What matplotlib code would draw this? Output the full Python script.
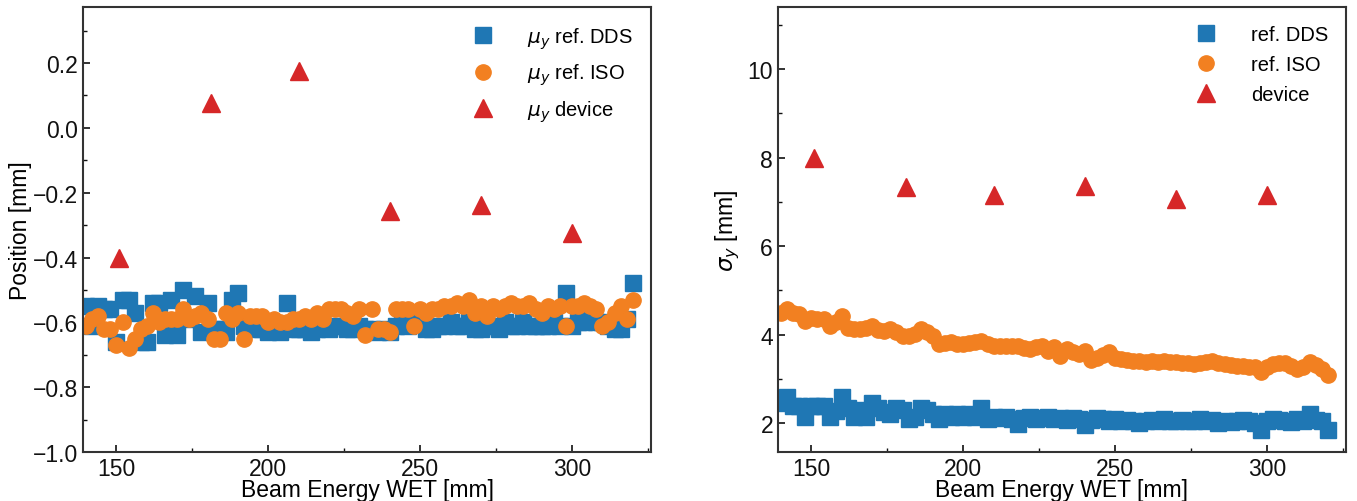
import numpy as np
import matplotlib
matplotlib.use("Agg")
import matplotlib.pyplot as plt
from matplotlib.ticker import MultipleLocator

plt.rcParams["font.family"] = ["Liberation Sans", "DejaVu Sans"]
plt.rcParams["mathtext.fontset"] = "dejavusans"

# beam energy WET [mm]
energy = list(range(140, 322, 2))

mu_dds = [-0.55, -0.61, -0.55, -0.56, -0.56, -0.66, -0.53, -0.53, -0.57, -0.66,
          -0.66, -0.54, -0.54, -0.64, -0.53, -0.64, -0.50, -0.59, -0.52, -0.63,
          -0.54, -0.62, -0.62, -0.63, -0.53, -0.51, -0.61, -0.60, -0.62, -0.62,
          -0.63, -0.62, -0.63, -0.54, -0.62, -0.62, -0.62, -0.63, -0.62, -0.61,
          -0.62, -0.61, -0.61, -0.62, -0.62, -0.61, -0.62, -0.62, -0.63, -0.62,
          -0.63, -0.61, -0.60, -0.61, -0.60, -0.60, -0.62, -0.62, -0.61, -0.61,
          -0.60, -0.61, -0.61, -0.60, -0.62, -0.62, -0.61, -0.61, -0.62, -0.60,
          -0.61, -0.61, -0.60, -0.61, -0.61, -0.61, -0.61, -0.60, -0.61, -0.51,
          -0.61, -0.60, -0.60, -0.59, -0.60, -0.60, -0.61, -0.62, -0.62, -0.59,
          -0.48]
mu_iso = [-0.61, -0.59, -0.58, -0.62, -0.62, -0.67, -0.60, -0.68, -0.65, -0.62,
          -0.61, -0.57, -0.60, -0.59, -0.59, -0.59, -0.56, -0.59, -0.58, -0.57,
          -0.59, -0.65, -0.65, -0.57, -0.59, -0.57, -0.65, -0.58, -0.58, -0.58,
          -0.60, -0.59, -0.60, -0.60, -0.59, -0.59, -0.58, -0.59, -0.57, -0.59,
          -0.56, -0.56, -0.56, -0.57, -0.58, -0.56, -0.64, -0.56, -0.62, -0.62,
          -0.63, -0.56, -0.56, -0.56, -0.61, -0.56, -0.57, -0.56, -0.56, -0.55,
          -0.55, -0.54, -0.55, -0.53, -0.57, -0.55, -0.58, -0.55, -0.56, -0.55,
          -0.54, -0.55, -0.55, -0.54, -0.56, -0.57, -0.55, -0.56, -0.55, -0.61,
          -0.55, -0.55, -0.54, -0.55, -0.56, -0.61, -0.60, -0.57, -0.55, -0.59,
          -0.53]

sig_dds = [2.45, 2.60, 2.40, 2.38, 2.15, 2.40, 2.38, 2.40, 2.15, 2.28,
           2.60, 2.35, 2.15, 2.30, 2.15, 2.45, 2.35, 2.25, 2.20, 2.35,
           2.30, 2.10, 2.15, 2.35, 2.30, 2.20, 2.10, 2.20, 2.15, 2.20,
           2.15, 2.20, 2.15, 2.35, 2.10, 2.15, 2.12, 2.15, 2.10, 1.98,
           2.12, 2.15, 2.10, 2.12, 2.15, 2.10, 2.12, 2.08, 2.12, 2.10,
           1.95, 2.08, 2.12, 2.10, 2.05, 2.10, 2.05, 2.08, 2.05, 2.00,
           2.05, 2.08, 2.05, 2.10, 2.05, 2.05, 2.08, 2.05, 2.05, 2.10,
           2.05, 2.08, 2.00, 2.05, 2.02, 2.05, 2.08, 2.05, 2.00, 1.85,
           2.05, 2.10, 2.08, 2.05, 2.02, 2.10, 2.05, 2.20, 2.08, 2.05,
           1.85]
sig_iso = [4.50, 4.58, 4.50, 4.46, 4.30, 4.38, 4.35, 4.35, 4.20, 4.28,
           4.42, 4.15, 4.12, 4.12, 4.15, 4.19, 4.10, 4.08, 4.12, 4.05,
           3.97, 3.97, 4.02, 4.12, 4.05, 3.98, 3.80, 3.82, 3.83, 3.80,
           3.78, 3.82, 3.83, 3.85, 3.80, 3.74, 3.75, 3.74, 3.74, 3.74,
           3.70, 3.67, 3.72, 3.74, 3.63, 3.72, 3.51, 3.67, 3.60, 3.56,
           3.63, 3.42, 3.48, 3.55, 3.60, 3.48, 3.45, 3.42, 3.40, 3.40,
           3.38, 3.40, 3.38, 3.40, 3.38, 3.38, 3.36, 3.35, 3.33, 3.36,
           3.38, 3.40, 3.35, 3.33, 3.32, 3.30, 3.29, 3.28, 3.26, 3.15,
           3.28, 3.33, 3.35, 3.36, 3.30, 3.22, 3.28, 3.38, 3.32, 3.22,
           3.08]

dev_energy = [151, 181, 210, 240, 270, 300]
mu_dev = [-0.40, 0.077, 0.175, -0.257, -0.238, -0.325]
sig_dev = [7.99, 7.33, 7.15, 7.36, 7.06, 7.15]

BLUE, ORANGE, RED = "#1f77b4", "#f28021", "#d62728"

fig = plt.figure(figsize=(13.57, 5.02), dpi=100)
ax1 = fig.add_axes([0.0612, 0.0976, 0.4185, 0.8865])
ax2 = fig.add_axes([0.5733, 0.0976, 0.4186, 0.8865])

def style(ax):
    ax.tick_params(which="both", direction="in", labelsize=16.5, colors="#111111")
    ax.tick_params(which="major", length=5, width=1.2)
    ax.tick_params(which="minor", length=3, width=1.0)
    ax.xaxis.set_major_locator(MultipleLocator(50))
    ax.xaxis.set_minor_locator(MultipleLocator(25))
    for s in ax.spines.values():
        s.set_linewidth(1.5)
        s.set_color("#333333")
    ax.set_xlim(139, 326)
    ax.set_xlabel("Beam Energy WET [mm]", fontsize=16.5, labelpad=-1)

ax1.plot(energy, mu_dds, "s", color=BLUE, ms=11, label=r"$\mu_y$ ref. DDS")
ax1.plot(energy, mu_iso, "o", color=ORANGE, ms=11, label=r"$\mu_y$ ref. ISO")
ax1.plot(dev_energy, mu_dev, "^", color=RED, ms=13, label=r"$\mu_y$ device")
style(ax1)
ax1.set_ylim(-1.0, 0.373)
ax1.yaxis.set_major_locator(MultipleLocator(0.2))
ax1.yaxis.set_minor_locator(MultipleLocator(0.1))
ax1.set_ylabel("Position [mm]", fontsize=16.5, labelpad=1)
ax1.legend(loc="upper right", frameon=False, fontsize=14.5, handletextpad=1.2,
           borderaxespad=0.5, labelspacing=0.55)

ax2.plot(energy, sig_dds, "s", color=BLUE, ms=11, label="ref. DDS")
ax2.plot(energy, sig_iso, "o", color=ORANGE, ms=11, label="ref. ISO")
ax2.plot(dev_energy, sig_dev, "^", color=RED, ms=13, label="device")
style(ax2)
ax2.set_ylim(1.35, 11.4)
ax2.yaxis.set_major_locator(MultipleLocator(2))
ax2.yaxis.set_minor_locator(MultipleLocator(1))
ax2.set_ylabel(r"$\sigma_y$ [mm]", fontsize=16.5, labelpad=4)
ax2.legend(loc="upper right", frameon=False, fontsize=14.5, handletextpad=1.2,
           borderaxespad=0.5, labelspacing=0.55)

fig.savefig("out.png", dpi=100)
